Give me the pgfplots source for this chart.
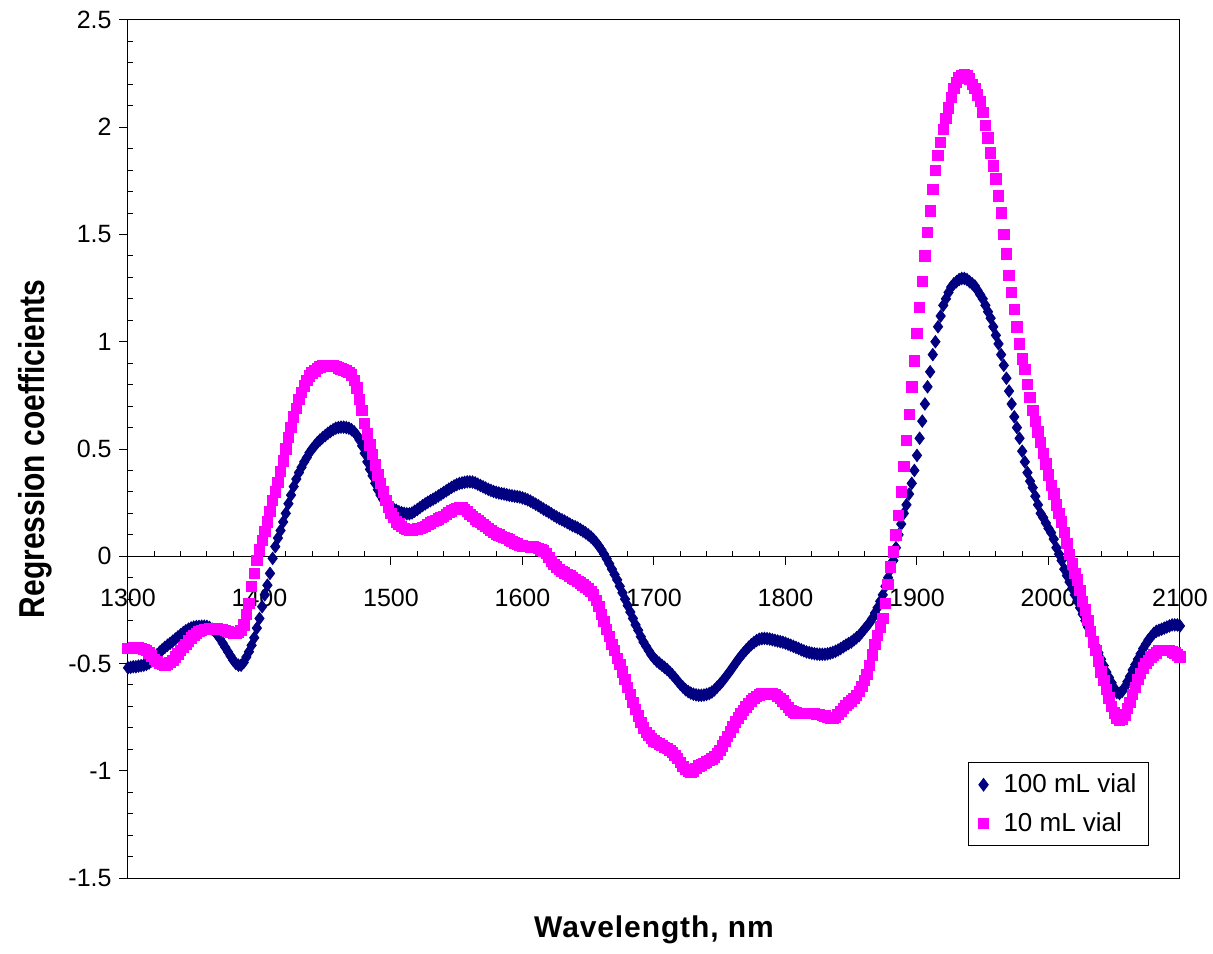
\documentclass[border=0pt]{standalone}
\usepackage{pgfplots}
\pgfplotsset{compat=1.18}
\usepackage{graphicx}
\usepackage{fontspec}
\setmainfont{Liberation Sans}
\definecolor{navyc}{RGB}{0,0,128}
\definecolor{magc}{RGB}{255,0,255}
\begin{document}
\begin{tikzpicture}
\path[use as bounding box] (-64pt,-37.5pt) rectangle (542.5pt,439pt);
\begin{axis}[
  at={(0,0)}, anchor=south west,
  scale only axis, width=526pt, height=429pt,
  xmin=1300, xmax=2100, ymin=-1.5, ymax=2.5,
  axis x line=middle, axis y line=left,
  hide obscured x ticks=false, hide obscured y ticks=false,
  axis line style={-, line width=0.5pt},
  clip=false,
  xtick={1300,1400,...,2100}, minor x tick num=4,
  ytick={-1.5,-1,...,2.5}, minor y tick num=4,
  tick align=inside, major tick length=-4.5pt, minor tick length=2.5pt,
  tick style={line width=0.5pt, black},
  /pgf/number format/assume math mode=true,
  /pgf/number format/1000 sep={},
  tick label style={font=\fontsize{12.5}{15}\selectfont},
  xticklabel style={anchor=base, yshift=-25pt},
  yticklabel style={anchor=east, xshift=-4.7pt},
  xlabel={\addfontfeatures{LetterSpace=3}Wavelength, nm},
  ylabel={\scalebox{1}[1.2]{Regression coefficients}},
  label style={font=\bfseries\fontsize{15}{18}\selectfont},
  xlabel style={at={(axis description cs:0.5,-0.0606)}, anchor=center},
  ylabel style={at={(axis description cs:-0.0884,0.5)}, anchor=center, rotate=0},
  legend style={at={(rel axis cs:0.9705,0.0373)}, anchor=south east, draw=black, line width=0.5pt,
    font=\fontsize{13}{15}\selectfont, row sep=4.5pt, inner xsep=4pt, inner ysep=3.5pt,
    legend cell align=left},
  legend image code/.code={\path[draw=none, fill=none] (0cm,0cm) rectangle (0.40cm,0cm); \draw[#1] plot coordinates {(0.12cm,0cm)};},
]
\draw[line width=0.5pt] (rel axis cs:0,0) rectangle (rel axis cs:1,1);
\addplot[only marks, mark=diamond*, mark size=3.1pt, mark options={draw=navyc, fill=navyc}] coordinates {
(1300,-0.52) (1302,-0.518) (1304,-0.515) (1306,-0.515) (1308,-0.512) (1310,-0.51) (1312,-0.508) (1314,-0.504) (1316,-0.498) (1318,-0.488)
(1320,-0.475) (1322,-0.46) (1324,-0.447) (1326,-0.436) (1328,-0.425) (1330,-0.415) (1332,-0.406) (1334,-0.396) (1336,-0.386) (1338,-0.376)
(1340,-0.366) (1342,-0.356) (1344,-0.347) (1346,-0.34) (1348,-0.334) (1350,-0.33) (1352,-0.328) (1354,-0.327) (1356,-0.326) (1358,-0.326)
(1360,-0.327) (1362,-0.332) (1364,-0.34) (1366,-0.352) (1368,-0.366) (1370,-0.385) (1372,-0.405) (1374,-0.425) (1376,-0.445) (1378,-0.465)
(1380,-0.485) (1382,-0.5) (1384,-0.508) (1386,-0.508) (1388,-0.495) (1390,-0.47) (1392,-0.445) (1394,-0.415) (1396,-0.38) (1398,-0.335)
(1400,-0.29) (1402,-0.235) (1404,-0.18) (1406,-0.135) (1408,-0.08) (1410,-0.01) (1412,0.045) (1414,0.085) (1416,0.12) (1418,0.16)
(1420,0.2) (1422,0.245) (1424,0.285) (1426,0.325) (1428,0.36) (1430,0.39) (1432,0.415) (1434,0.44) (1436,0.46) (1438,0.483)
(1440,0.5) (1442,0.515) (1444,0.53) (1446,0.542) (1448,0.553) (1450,0.563) (1452,0.573) (1454,0.582) (1456,0.59) (1458,0.597)
(1460,0.6) (1462,0.602) (1464,0.602) (1466,0.6) (1468,0.597) (1470,0.59) (1472,0.58) (1474,0.565) (1476,0.543) (1478,0.515)
(1480,0.48) (1482,0.44) (1484,0.405) (1486,0.375) (1488,0.34) (1490,0.31) (1492,0.285) (1494,0.265) (1496,0.25) (1498,0.24)
(1500,0.23) (1502,0.22) (1504,0.214) (1506,0.208) (1508,0.203) (1510,0.2) (1512,0.198) (1514,0.198) (1516,0.202) (1518,0.21)
(1520,0.218) (1522,0.227) (1524,0.236) (1526,0.244) (1528,0.252) (1530,0.259) (1532,0.266) (1534,0.273) (1536,0.281) (1538,0.289)
(1540,0.297) (1542,0.305) (1544,0.313) (1546,0.321) (1548,0.328) (1550,0.334) (1552,0.339) (1554,0.342) (1556,0.345) (1558,0.347)
(1560,0.347) (1562,0.346) (1564,0.342) (1566,0.336) (1568,0.33) (1570,0.324) (1572,0.318) (1574,0.312) (1576,0.307) (1578,0.302)
(1580,0.298) (1582,0.295) (1584,0.292) (1586,0.29) (1588,0.287) (1590,0.284) (1592,0.282) (1594,0.28) (1596,0.278) (1598,0.276)
(1600,0.272) (1602,0.268) (1604,0.263) (1606,0.257) (1608,0.25) (1610,0.243) (1612,0.236) (1614,0.228) (1616,0.22) (1618,0.213)
(1620,0.206) (1622,0.198) (1624,0.19) (1626,0.183) (1628,0.176) (1630,0.17) (1632,0.164) (1634,0.157) (1636,0.15) (1638,0.143)
(1640,0.138) (1642,0.132) (1644,0.125) (1646,0.117) (1648,0.109) (1650,0.1) (1652,0.09) (1654,0.078) (1656,0.064) (1658,0.048)
(1660,0.03) (1662,0.01) (1664,-0.012) (1666,-0.035) (1668,-0.06) (1670,-0.085) (1672,-0.11) (1674,-0.14) (1676,-0.17) (1678,-0.2)
(1680,-0.23) (1682,-0.26) (1684,-0.29) (1686,-0.32) (1688,-0.345) (1690,-0.375) (1692,-0.4) (1694,-0.42) (1696,-0.44) (1698,-0.46)
(1700,-0.475) (1702,-0.488) (1704,-0.498) (1706,-0.508) (1708,-0.518) (1710,-0.528) (1712,-0.54) (1714,-0.553) (1716,-0.567) (1718,-0.582)
(1720,-0.597) (1722,-0.61) (1724,-0.622) (1726,-0.631) (1728,-0.638) (1730,-0.643) (1732,-0.646) (1734,-0.648) (1736,-0.648) (1738,-0.647)
(1740,-0.644) (1742,-0.64) (1744,-0.633) (1746,-0.623) (1748,-0.61) (1750,-0.597) (1752,-0.583) (1754,-0.567) (1756,-0.551) (1758,-0.534)
(1760,-0.517) (1762,-0.499) (1764,-0.482) (1766,-0.466) (1768,-0.451) (1770,-0.437) (1772,-0.424) (1774,-0.412) (1776,-0.402) (1778,-0.393)
(1780,-0.387) (1782,-0.384) (1784,-0.383) (1786,-0.384) (1788,-0.386) (1790,-0.389) (1792,-0.392) (1794,-0.395) (1796,-0.398) (1798,-0.401)
(1800,-0.405) (1802,-0.41) (1804,-0.415) (1806,-0.42) (1808,-0.425) (1810,-0.43) (1812,-0.436) (1814,-0.441) (1816,-0.446) (1818,-0.449)
(1820,-0.452) (1822,-0.454) (1824,-0.456) (1826,-0.457) (1828,-0.457) (1830,-0.457) (1832,-0.455) (1834,-0.452) (1836,-0.448) (1838,-0.443)
(1840,-0.437) (1842,-0.43) (1844,-0.422) (1846,-0.414) (1848,-0.407) (1850,-0.4) (1852,-0.39) (1854,-0.38) (1856,-0.37) (1858,-0.355)
(1860,-0.34) (1862,-0.325) (1864,-0.31) (1866,-0.29) (1868,-0.265) (1870,-0.24) (1872,-0.21) (1874,-0.18) (1876,-0.14) (1878,-0.1)
(1880,-0.06) (1882,-0.02) (1884,0.04) (1886,0.1) (1888,0.15) (1890,0.2) (1892,0.24) (1894,0.29) (1896,0.34) (1898,0.4)
(1900,0.47) (1902,0.55) (1904,0.63) (1906,0.71) (1908,0.79) (1910,0.86) (1912,0.94) (1914,1.0) (1916,1.07) (1918,1.12)
(1920,1.17) (1922,1.2) (1924,1.23) (1926,1.255) (1928,1.27) (1930,1.28) (1932,1.29) (1934,1.295) (1936,1.295) (1938,1.29)
(1940,1.28) (1942,1.27) (1944,1.26) (1946,1.24) (1948,1.22) (1950,1.2) (1952,1.17) (1954,1.14) (1956,1.11) (1958,1.07)
(1960,1.03) (1962,0.99) (1964,0.94) (1966,0.89) (1968,0.83) (1970,0.77) (1972,0.71) (1974,0.65) (1976,0.6) (1978,0.55)
(1980,0.49) (1982,0.44) (1984,0.39) (1986,0.35) (1988,0.32) (1990,0.28) (1992,0.24) (1994,0.2) (1996,0.18) (1998,0.155)
(2000,0.13) (2002,0.11) (2004,0.08) (2006,0.04) (2008,0.01) (2010,-0.02) (2012,-0.06) (2014,-0.09) (2016,-0.12) (2018,-0.15)
(2020,-0.18) (2022,-0.21) (2024,-0.24) (2026,-0.27) (2028,-0.3) (2030,-0.33) (2032,-0.36) (2034,-0.39) (2036,-0.42) (2038,-0.45)
(2040,-0.48) (2042,-0.51) (2044,-0.54) (2046,-0.565) (2048,-0.59) (2050,-0.615) (2052,-0.635) (2054,-0.64) (2056,-0.63) (2058,-0.61)
(2060,-0.585) (2062,-0.56) (2064,-0.53) (2066,-0.505) (2068,-0.48) (2070,-0.455) (2072,-0.43) (2074,-0.41) (2076,-0.39) (2078,-0.375)
(2080,-0.36) (2082,-0.35) (2084,-0.345) (2086,-0.34) (2088,-0.335) (2090,-0.33) (2092,-0.325) (2094,-0.32) (2096,-0.32) (2098,-0.32)
(2100,-0.325)
};
\addlegendentry{100 mL vial}
\addplot[only marks, mark=square*, mark size=2.6pt, mark options={draw=magc, fill=magc}] coordinates {
(1300,-0.43) (1302,-0.43) (1304,-0.425) (1306,-0.425) (1308,-0.425) (1310,-0.43) (1312,-0.435) (1314,-0.44) (1316,-0.45) (1318,-0.465)
(1320,-0.48) (1322,-0.49) (1324,-0.5) (1326,-0.505) (1328,-0.51) (1330,-0.505) (1332,-0.495) (1334,-0.485) (1336,-0.47) (1338,-0.455)
(1340,-0.44) (1342,-0.425) (1344,-0.41) (1346,-0.395) (1348,-0.38) (1350,-0.37) (1352,-0.36) (1354,-0.35) (1356,-0.345) (1358,-0.34)
(1360,-0.34) (1362,-0.338) (1364,-0.336) (1366,-0.336) (1368,-0.337) (1370,-0.34) (1372,-0.342) (1374,-0.345) (1376,-0.35) (1378,-0.355)
(1380,-0.36) (1382,-0.36) (1384,-0.355) (1386,-0.345) (1388,-0.32) (1390,-0.27) (1392,-0.22) (1394,-0.14) (1396,-0.08) (1398,-0.02)
(1400,0.03) (1402,0.075) (1404,0.115) (1406,0.16) (1408,0.21) (1410,0.26) (1412,0.3) (1414,0.345) (1416,0.395) (1418,0.445)
(1420,0.5) (1422,0.555) (1424,0.6) (1426,0.65) (1428,0.69) (1430,0.73) (1432,0.765) (1434,0.795) (1436,0.82) (1438,0.84)
(1440,0.855) (1442,0.865) (1444,0.875) (1446,0.882) (1448,0.888) (1450,0.89) (1452,0.89) (1454,0.89) (1456,0.888) (1458,0.884)
(1460,0.878) (1462,0.873) (1464,0.868) (1466,0.864) (1468,0.858) (1470,0.845) (1472,0.82) (1474,0.785) (1476,0.73) (1478,0.68)
(1480,0.62) (1482,0.57) (1484,0.52) (1486,0.475) (1488,0.425) (1490,0.38) (1492,0.34) (1494,0.3) (1496,0.26) (1498,0.23)
(1500,0.2) (1502,0.18) (1504,0.16) (1506,0.15) (1508,0.14) (1510,0.13) (1512,0.125) (1514,0.122) (1516,0.122) (1518,0.125)
(1520,0.128) (1522,0.13) (1524,0.135) (1526,0.14) (1528,0.148) (1530,0.155) (1532,0.162) (1534,0.168) (1536,0.175) (1538,0.18)
(1540,0.185) (1542,0.195) (1544,0.205) (1546,0.212) (1548,0.218) (1550,0.224) (1552,0.227) (1554,0.225) (1556,0.218) (1558,0.208)
(1560,0.196) (1562,0.185) (1564,0.175) (1566,0.165) (1568,0.157) (1570,0.148) (1572,0.14) (1574,0.13) (1576,0.12) (1578,0.112)
(1580,0.105) (1582,0.1) (1584,0.093) (1586,0.087) (1588,0.082) (1590,0.076) (1592,0.07) (1594,0.063) (1596,0.057) (1598,0.051)
(1600,0.048) (1602,0.046) (1604,0.045) (1606,0.044) (1608,0.043) (1610,0.04) (1612,0.036) (1614,0.03) (1616,0.025) (1618,0.012)
(1620,-0.005) (1622,-0.025) (1624,-0.038) (1626,-0.05) (1628,-0.06) (1630,-0.07) (1632,-0.078) (1634,-0.085) (1636,-0.092) (1638,-0.1)
(1640,-0.108) (1642,-0.116) (1644,-0.124) (1646,-0.133) (1648,-0.143) (1650,-0.153) (1652,-0.165) (1654,-0.18) (1656,-0.205) (1658,-0.235)
(1660,-0.27) (1662,-0.305) (1664,-0.34) (1666,-0.375) (1668,-0.41) (1670,-0.44) (1672,-0.475) (1674,-0.505) (1676,-0.54) (1678,-0.575)
(1680,-0.61) (1682,-0.645) (1684,-0.68) (1686,-0.715) (1688,-0.745) (1690,-0.775) (1692,-0.8) (1694,-0.82) (1696,-0.835) (1698,-0.85)
(1700,-0.86) (1702,-0.868) (1704,-0.875) (1706,-0.882) (1708,-0.89) (1710,-0.897) (1712,-0.904) (1714,-0.915) (1716,-0.928) (1718,-0.943)
(1720,-0.96) (1722,-0.98) (1724,-0.995) (1726,-1.003) (1728,-1.006) (1730,-1.0) (1732,-0.99) (1734,-0.978) (1736,-0.972) (1738,-0.965)
(1740,-0.958) (1742,-0.952) (1744,-0.945) (1746,-0.935) (1748,-0.922) (1750,-0.905) (1752,-0.885) (1754,-0.863) (1756,-0.84) (1758,-0.818)
(1760,-0.795) (1762,-0.773) (1764,-0.753) (1766,-0.735) (1768,-0.718) (1770,-0.702) (1772,-0.688) (1774,-0.675) (1776,-0.663) (1778,-0.654)
(1780,-0.647) (1782,-0.642) (1784,-0.639) (1786,-0.638) (1788,-0.639) (1790,-0.641) (1792,-0.645) (1794,-0.652) (1796,-0.662) (1798,-0.675)
(1800,-0.69) (1802,-0.705) (1804,-0.718) (1806,-0.726) (1808,-0.731) (1810,-0.733) (1812,-0.734) (1814,-0.734) (1816,-0.733) (1818,-0.733)
(1820,-0.733) (1822,-0.734) (1824,-0.736) (1826,-0.738) (1828,-0.741) (1830,-0.745) (1832,-0.75) (1834,-0.755) (1836,-0.756) (1838,-0.75)
(1840,-0.738) (1842,-0.722) (1844,-0.708) (1846,-0.695) (1848,-0.684) (1850,-0.674) (1852,-0.662) (1854,-0.648) (1856,-0.63) (1858,-0.608)
(1860,-0.58) (1862,-0.55) (1864,-0.51) (1866,-0.46) (1868,-0.41) (1870,-0.37) (1872,-0.33) (1874,-0.29) (1876,-0.22) (1878,-0.13)
(1880,-0.05) (1882,0.02) (1884,0.1) (1886,0.19) (1888,0.3) (1890,0.42) (1892,0.54) (1894,0.66) (1896,0.79) (1898,0.91)
(1900,1.04) (1902,1.16) (1904,1.28) (1906,1.4) (1908,1.51) (1910,1.61) (1912,1.71) (1914,1.8) (1916,1.87) (1918,1.93)
(1920,1.99) (1922,2.04) (1924,2.09) (1926,2.14) (1928,2.18) (1930,2.21) (1932,2.23) (1934,2.24) (1936,2.245) (1938,2.24)
(1940,2.225) (1942,2.2) (1944,2.18) (1946,2.15) (1948,2.12) (1950,2.07) (1952,2.01) (1954,1.95) (1956,1.88) (1958,1.82)
(1960,1.76) (1962,1.68) (1964,1.6) (1966,1.5) (1968,1.41) (1970,1.31) (1972,1.23) (1974,1.15) (1976,1.07) (1978,0.99)
(1980,0.92) (1982,0.87) (1984,0.8) (1986,0.74) (1988,0.68) (1990,0.63) (1992,0.58) (1994,0.53) (1996,0.48) (1998,0.43)
(2000,0.38) (2002,0.33) (2004,0.29) (2006,0.24) (2008,0.2) (2010,0.16) (2012,0.11) (2014,0.06) (2016,0.01) (2018,-0.035)
(2020,-0.08) (2022,-0.11) (2024,-0.16) (2026,-0.21) (2028,-0.25) (2030,-0.3) (2032,-0.35) (2034,-0.4) (2036,-0.44) (2038,-0.49)
(2040,-0.54) (2042,-0.58) (2044,-0.62) (2046,-0.66) (2048,-0.7) (2050,-0.73) (2052,-0.755) (2054,-0.765) (2056,-0.76) (2058,-0.74)
(2060,-0.71) (2062,-0.68) (2064,-0.645) (2066,-0.61) (2068,-0.575) (2070,-0.545) (2072,-0.52) (2074,-0.5) (2076,-0.485) (2078,-0.47)
(2080,-0.46) (2082,-0.45) (2084,-0.44) (2086,-0.44) (2088,-0.44) (2090,-0.44) (2092,-0.44) (2094,-0.445) (2096,-0.45) (2098,-0.46)
(2100,-0.47)
};
\addlegendentry{10 mL vial}
\end{axis}
\end{tikzpicture}
\end{document}
